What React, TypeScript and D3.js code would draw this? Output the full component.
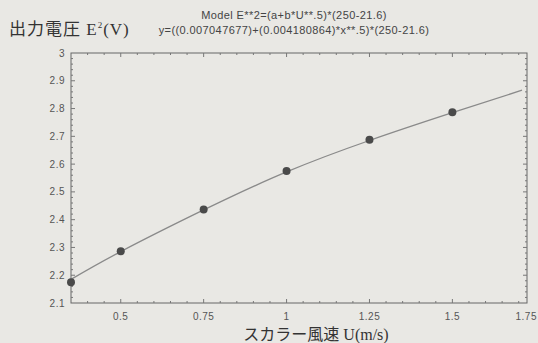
import * as d3 from "d3";
import { useEffect, useRef } from "react";

// measured points (U, E^2)
const windSpeed = [0.35, 0.5, 0.75, 1.0, 1.25, 1.5];
const voltageSq = [2.175, 2.286, 2.437, 2.575, 2.688, 2.787];

// fitted model line
const fitU = [0.35, 0.5, 0.75, 1.0, 1.25, 1.5, 1.71];
const fitE = [2.185, 2.285, 2.435, 2.572, 2.685, 2.785, 2.866];

const xTicks = [0.5, 0.75, 1, 1.25, 1.5, 1.75];
const xTickLabels = ["0.5", "0.75", "1", "1.25", "1.5", "1.75"];
const yTicks = [2.1, 2.2, 2.3, 2.4, 2.5, 2.6, 2.7, 2.8, 2.9, 3];
const yTickLabels = ["2.1", "2.2", "2.3", "2.4", "2.5", "2.6", "2.7", "2.8", "2.9", "3"];

const modelLine1 = "Model E**2=(a+b*U**.5)*(250-21.6)";
const modelLine2 = "y=((0.007047677)+(0.004180864)*x**.5)*(250-21.6)";

function App() {
    const ref = useRef<SVGSVGElement>(null);

    useEffect(() => {
        const svg = d3.select(ref.current);
        svg.selectAll("*").remove();

        const width = 538;
        const height = 343;
        const plot = { left: 71, right: 527, top: 53, bottom: 303 };

        const x = d3.scaleLinear().domain([0.35, 1.725]).range([plot.left, plot.right]);
        const y = d3.scaleLinear().domain([2.1, 3]).range([plot.bottom, plot.top]);

        // paper background
        svg.append("rect").attr("width", width).attr("height", height).attr("fill", "#e9e8e4");

        const sans = "Liberation Sans, Arial, sans-serif";
        const serif = "Liberation Serif, Noto Sans CJK JP, serif";

        // model text
        [modelLine1, modelLine2].forEach((t, i) => {
            svg.append("text")
                .attr("x", 294).attr("y", 19 + i * 15)
                .attr("text-anchor", "middle")
                .style("font-family", sans).style("font-size", "11px")
                .style("letter-spacing", "0.4px").attr("fill", "#444")
                .text(t);
        });

        // y title
        const yt = svg.append("text")
            .attr("x", 9).attr("y", 35)
            .style("font-family", serif).style("font-size", "17px")
            .style("letter-spacing", "1px").attr("fill", "#333");
        yt.append("tspan").text("出力電圧 E");
        yt.append("tspan").attr("dy", -7).style("font-size", "9px").text("2");
        yt.append("tspan").attr("dy", 7).text("(V)");

        // frame
        svg.append("rect")
            .attr("x", plot.left).attr("y", plot.top)
            .attr("width", plot.right - plot.left).attr("height", plot.bottom - plot.top)
            .attr("fill", "none").attr("stroke", "#666").attr("stroke-width", 1);

        // minor / major ticks inside the frame
        const g = svg.append("g").attr("stroke", "#777").attr("stroke-width", 1);
        d3.range(0.4, 1.725, 0.05).forEach(v => {
            const major = xTicks.some(t => Math.abs(t - v) < 1e-6);
            const len = major ? 4 : 2;
            g.append("line").attr("x1", x(v)).attr("x2", x(v)).attr("y1", plot.bottom).attr("y2", plot.bottom - len);
            g.append("line").attr("x1", x(v)).attr("x2", x(v)).attr("y1", plot.top).attr("y2", plot.top + len);
        });
        d3.range(2.12, 3, 0.02).forEach(v => {
            const major = yTicks.some(t => Math.abs(t - v) < 1e-6);
            const len = major ? 4 : 2;
            g.append("line").attr("y1", y(v)).attr("y2", y(v)).attr("x1", plot.left).attr("x2", plot.left + len);
            g.append("line").attr("y1", y(v)).attr("y2", y(v)).attr("x1", plot.right).attr("x2", plot.right - len);
        });

        // tick labels
        yTicks.forEach((t, i) => {
            svg.append("text")
                .attr("x", 65).attr("y", y(t) + 3.5)
                .attr("text-anchor", "end")
                .style("font-family", sans).style("font-size", "10px")
                .style("letter-spacing", "0.5px").attr("fill", "#555")
                .text(yTickLabels[i]);
        });
        xTicks.forEach((t, i) => {
            const last = i === xTicks.length - 1;
            svg.append("text")
                .attr("x", last ? width - 1 : x(t)).attr("y", 320)
                .attr("text-anchor", last ? "end" : "middle")
                .style("font-family", sans).style("font-size", "10px")
                .style("letter-spacing", "0.5px").attr("fill", "#555")
                .text(xTickLabels[i]);
        });

        // x title
        svg.append("text")
            .attr("x", 316).attr("y", 340)
            .attr("text-anchor", "middle")
            .style("font-family", serif).style("font-size", "16px").attr("fill", "#333")
            .text("スカラー風速 U(m/s)");

        // fitted curve
        const line = d3.line<number>()
            .x((_, i) => x(fitU[i]))
            .y(d => y(d))
            .curve(d3.curveNatural);
        svg.append("path")
            .attr("d", line(fitE))
            .attr("fill", "none").attr("stroke", "#8a8a8a").attr("stroke-width", 1.3);

        // points
        svg.append("g").selectAll("circle")
            .data(voltageSq)
            .enter()
            .append("circle")
            .attr("cx", (_, i) => x(windSpeed[i]))
            .attr("cy", d => y(d))
            .attr("r", 4)
            .attr("fill", "#4a4a4a");
    }, []);

    return <svg ref={ref} width={538} height={343} style={{ position: "absolute", left: 0, top: 0 }} />;
}

export default App;
